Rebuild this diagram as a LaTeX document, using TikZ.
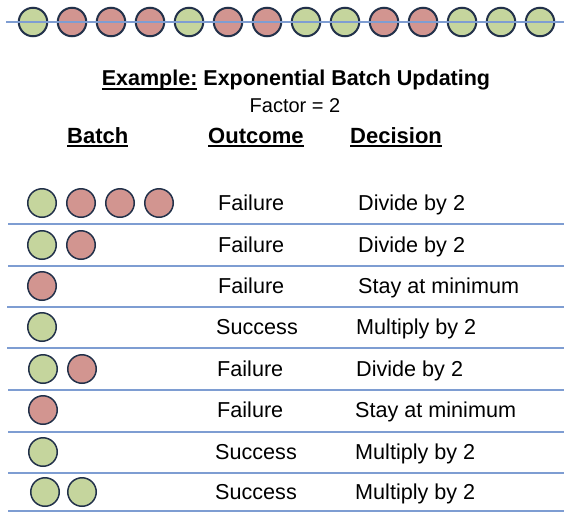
\documentclass[tikz,border=0pt]{standalone}
\usepackage{fontspec}
\setmainfont{Liberation Sans}
\usetikzlibrary{positioning}
\definecolor{cGood}{HTML}{C5D59D}
\definecolor{cBad}{HTML}{D29590}
\definecolor{cEdge}{HTML}{22314A}
\definecolor{cRule}{HTML}{7E9DD2}
\newcommand{\uln}[1]{\setbox0=\hbox{#1}\rlap{\rule[-4pt]{\wd0}{1.8pt}}\box0\relax}
\tikzset{
  ball/.style={circle, draw=cEdge, line width=1.5pt, fill=#1, minimum size=28.5pt, inner sep=0pt},
  topb/.style={ball=#1, line width=2pt},
  ttl/.style={font=\fontsize{21.5}{26}\selectfont\bfseries, inner sep=0pt},
  fac/.style={font=\fontsize{20}{24}\selectfont, inner sep=0pt},
  hdr/.style={font=\fontsize{22}{26}\selectfont\bfseries, inner sep=0pt, anchor=base west},
  cell/.style={font=\fontsize{21.6}{26}\selectfont, inner sep=0pt, anchor=base west},
  sep/.style={draw=cRule, line width=1.1pt},
}

\begin{document}
\begin{tikzpicture}[x=1pt, y=-1pt]
\useasboundingbox (0,0) rectangle (564,512);
% sequence of outcomes
\node[topb=cGood] (t1) at (33,22) {};
\node[topb=cBad, right=8.5pt of t1] (t2) {};
\node[topb=cBad, right=8.5pt of t2] (t3) {};
\node[topb=cBad, right=8.5pt of t3] (t4) {};
\node[topb=cGood, right=8.5pt of t4] (t5) {};
\node[topb=cBad, right=8.5pt of t5] (t6) {};
\node[topb=cBad, right=8.5pt of t6] (t7) {};
\node[topb=cGood, right=8.5pt of t7] (t8) {};
\node[topb=cGood, right=8.5pt of t8] (t9) {};
\node[topb=cBad, right=8.5pt of t9] (t10) {};
\node[topb=cBad, right=8.5pt of t10] (t11) {};
\node[topb=cGood, right=8.5pt of t11] (t12) {};
\node[topb=cGood, right=8.5pt of t12] (t13) {};
\node[topb=cGood, right=8.5pt of t13] (t14) {};
\coordinate (tl) at (6,22);
\coordinate (tr) at (564,22);
\draw[draw=cRule, line width=1.5pt] (tl) -- (tr);
% headings
\node[ttl] (title) at (296,80) {\uln{Example:} Exponential Batch Updating};
\node[fac] (fac) at (295,106) {Factor = 2};
\node[hdr] (hb) at (67,143) {\uln{Batch}};
\node[hdr] (ho) at (208,143) {\uln{Outcome}};
\node[hdr] (hd) at (350,143) {\uln{Decision}};
% row 1
\node[ball=cGood] (b1a) at (42,203) {};
\node[ball=cBad, right=9pt of b1a] (b1b) {};
\node[ball=cBad, right=9pt of b1b] (b1c) {};
\node[ball=cBad, right=9pt of b1c] (b1d) {};
\node[cell] (o1) at (218,210) {Failure};
\node[cell] (d1) at (358,210) {Divide by 2};
% row 2
\node[ball=cGood] (b2a) at (42,245) {};
\node[ball=cBad, right=9pt of b2a] (b2b) {};
\node[cell] (o2) at (218,252) {Failure};
\node[cell] (d2) at (358,252) {Divide by 2};
% row 3
\node[ball=cBad] (b3a) at (42,286) {};
\node[cell] (o3) at (218,293) {Failure};
\node[cell] (d3) at (358,293) {Stay at minimum};
% row 4
\node[ball=cGood] (b4a) at (42,327) {};
\node[cell] (o4) at (216,334) {Success};
\node[cell] (d4) at (356,334) {Multiply by 2};
% row 5
\node[ball=cGood] (b5a) at (43,369) {};
\node[ball=cBad, right=9pt of b5a] (b5b) {};
\node[cell] (o5) at (217,376) {Failure};
\node[cell] (d5) at (356,376) {Divide by 2};
% row 6
\node[ball=cBad] (b6a) at (43,410) {};
\node[cell] (o6) at (217,417) {Failure};
\node[cell] (d6) at (355,417) {Stay at minimum};
% row 7
\node[ball=cGood] (b7a) at (43,452) {};
\node[cell] (o7) at (215,459) {Success};
\node[cell] (d7) at (355,459) {Multiply by 2};
% row 8
\node[ball=cGood] (b8a) at (45,492) {};
\node[ball=cGood, right=7pt of b8a] (b8b) {};
\node[cell] (o8) at (215,499) {Success};
\node[cell] (d8) at (355,499) {Multiply by 2};
% row rules
\draw[sep] (8,224) -- (564,224);
\draw[sep] (8,266) -- (564,266);
\draw[sep] (7,307) -- (564,307);
\draw[sep] (7,348) -- (564,348);
\draw[sep] (8,390) -- (564,390);
\draw[sep] (8,432) -- (564,432);
\draw[sep] (8,473) -- (564,473);
\draw[sep] (8,511) -- (564,511);
\end{tikzpicture}
\end{document}
